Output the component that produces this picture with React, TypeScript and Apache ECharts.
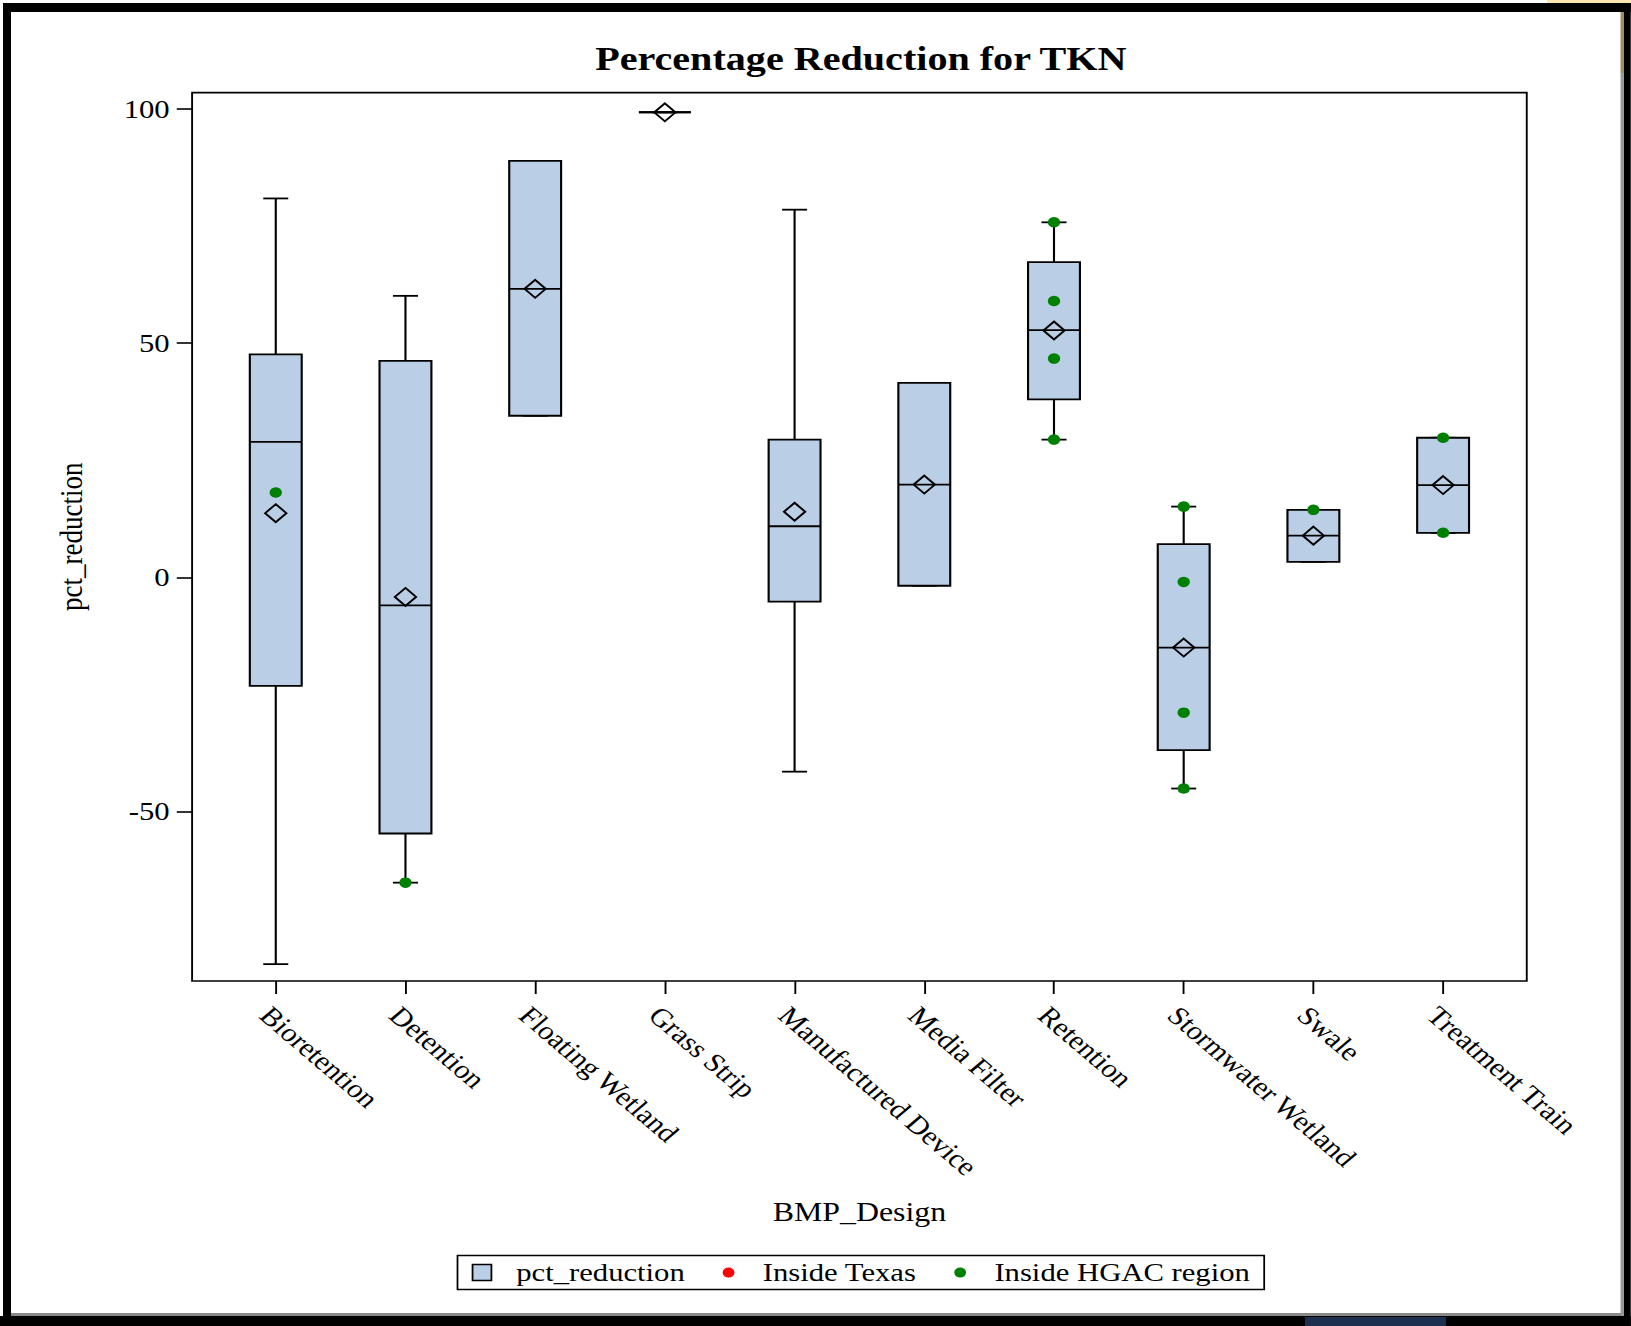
import React, { useEffect, useRef } from 'react';
import * as echarts from 'echarts';

// ---- data ----
const categories = [
  'Bioretention',
  'Detention',
  'Floating Wetland',
  'Grass Strip',
  'Manufactured Device',
  'Media Filter',
  'Retention',
  'Stormwater Wetland',
  'Swale',
  'Treatment Train',
];
const whiskerLow = [-82.6, -65.2, 34.5, 99.3, -41.5, -1.8, 29.4, -45.1, 3.3, 9.5];
const quartile1 = [-23.2, -54.7, 34.5, 99.3, -5.2, -1.8, 38.0, -36.9, 3.3, 9.5];
const medians = [28.9, -6.0, 61.6, 99.3, 10.9, 19.8, 52.8, -15.0, 8.9, 19.7];
const quartile3 = [47.6, 46.2, 88.9, 99.3, 29.4, 41.5, 67.3, 7.1, 14.4, 29.8];
const whiskerHigh = [80.9, 60.1, 88.9, 99.3, 78.5, 41.5, 75.8, 15.1, 14.4, 29.8];
const means = [13.7, -4.2, 61.6, 99.3, 14.0, 19.8, 52.7, -15.0, 8.9, 19.7];

const hgacCategory = [0, 1, 6, 6, 6, 6, 7, 7, 7, 7, 8, 9, 9];
const hgacValues = [18.1, -65.2, 75.8, 59.0, 46.7, 29.4, 15.1, -1.0, -28.9, -45.1, 14.4, 29.8, 9.5];
const texasCategory: number[] = [];
const texasValues: number[] = [];

const yTickValues = [-50, 0, 50, 100];
const xTickValues = categories.map((_, i) => i);

// ---- layout ----
const K = 1.18; // horizontal stretch of the reference picture
const FULL_W = 1631;
const FULL_H = 1326;
const W = FULL_W / K;
const fx = (x: number) => x / K;

const BOX_COLOR = '#BACFE6';
const GREEN = '#008000';
const RED = '#FF0000';
const FONT = 'Liberation Serif';

const circleIcon =
  'path://M0,0L0.01,0M16,16L16.01,16M13,8A5,5,0,1,1,3,8A5,5,0,1,1,13,8Z';

function renderBox(params: any, api: any) {
  const i = api.value(0);
  const lo = api.value(1);
  const a = api.value(2);
  const m = api.value(3);
  const b = api.value(4);
  const hi = api.value(5);
  const mean = api.value(6);
  const unit = api.size([1, 0])[0];
  const bw = unit * 0.4;
  const cw = unit * 0.193;
  const pLo = api.coord([i, lo]);
  const cx = pLo[0];
  const yLo = pLo[1];
  const yQ1 = api.coord([i, a])[1];
  const yMed = api.coord([i, m])[1];
  const yQ3 = api.coord([i, b])[1];
  const yHi = api.coord([i, hi])[1];
  const yMean = api.coord([i, mean])[1];
  const lw = 1.8;
  const ls = { stroke: '#000', lineWidth: lw, fill: null };
  const d = 9;
  return {
    type: 'group',
    children: [
      { type: 'line', shape: { x1: cx, y1: yQ3, x2: cx, y2: yHi }, style: ls },
      { type: 'line', shape: { x1: cx - cw / 2, y1: yHi, x2: cx + cw / 2, y2: yHi }, style: ls },
      { type: 'line', shape: { x1: cx, y1: yQ1, x2: cx, y2: yLo }, style: ls },
      { type: 'line', shape: { x1: cx - cw / 2, y1: yLo, x2: cx + cw / 2, y2: yLo }, style: ls },
      {
        type: 'rect',
        shape: { x: cx - bw / 2, y: yQ3, width: bw, height: yQ1 - yQ3 },
        style: { fill: BOX_COLOR, stroke: '#000', lineWidth: lw },
      },
      { type: 'line', shape: { x1: cx - bw / 2, y1: yMed, x2: cx + bw / 2, y2: yMed }, style: ls },
      {
        type: 'polygon',
        shape: {
          points: [
            [cx, yMean - d],
            [cx + d, yMean],
            [cx, yMean + d],
            [cx - d, yMean],
          ],
        },
        style: { fill: 'none', stroke: '#000', lineWidth: lw },
      },
    ],
  };
}

export default function App() {
  const ref = useRef<HTMLDivElement>(null);

  useEffect(() => {
    if (!ref.current) return;
    const chart = echarts.init(ref.current, undefined, { renderer: 'svg' });

    const boxData = categories.map((_, i) => [
      i,
      whiskerLow[i],
      quartile1[i],
      medians[i],
      quartile3[i],
      whiskerHigh[i],
      means[i],
    ]);
    const hgacData = hgacCategory.map((c, j) => [c, hgacValues[j]]);
    const texasData = texasCategory.map((c, j) => [c, texasValues[j]]);

    const option: any = {
      animation: false,
      backgroundColor: '#ffffff',
      textStyle: { fontFamily: FONT, color: '#000' },
      title: {
        text: 'Percentage Reduction for TKN',
        left: 729.5,
        textAlign: 'center',
        top: 41.8,
        padding: 0,
        textStyle: {
          fontFamily: FONT,
          fontWeight: 'bold',
          fontSize: 34,
          lineHeight: 34,
          color: '#000',
        },
      },
      legend: {
        left: fx(457.5),
        top: 1255.6,
        padding: [4, 12, 4, 12],
        borderColor: '#000',
        borderWidth: 1.5,
        itemWidth: 16,
        itemHeight: 16,
        itemGap: 29,
        selectedMode: false,
        textStyle: {
          fontFamily: FONT,
          fontSize: 26,
          lineHeight: 24,
          color: '#000',
          padding: [0, 0, 0, 16],
        },
        data: [
          {
            name: 'pct_reduction',
            icon: 'rect',
            itemStyle: { color: BOX_COLOR, borderColor: '#000', borderWidth: 1.5 },
          },
          { name: 'Inside Texas', icon: circleIcon, itemStyle: { color: RED, borderWidth: 0, opacity: 1 } },
          { name: 'Inside HGAC region', icon: circleIcon, itemStyle: { color: GREEN, borderWidth: 0, opacity: 1 } },
        ],
      },
      grid: {
        left: fx(192.1),
        right: W - fx(1527),
        top: 92.6,
        bottom: FULL_H - 981,
        show: true,
        borderColor: '#000',
        borderWidth: 1.6,
        backgroundColor: 'transparent',
      },
      xAxis: {
        type: 'value',
        min: -0.645,
        max: 9.645,
        position: 'bottom',
        name: 'BMP_Design',
        nameLocation: 'middle',
        nameGap: 217.5,
        nameTextStyle: { fontFamily: FONT, fontSize: 27, lineHeight: 27, color: '#000' },
        axisLine: { show: false, onZero: false },
        splitLine: { show: false },
        axisTick: {
          show: true,
          inside: false,
          length: 13,
          customValues: xTickValues,
          lineStyle: { color: '#000', width: 1.6 },
        },
        axisLabel: {
          customValues: xTickValues,
          rotate: -45,
          align: 'left',
          verticalAlign: 'top',
          margin: 21,
          fontFamily: FONT,
          fontSize: 26,
          color: '#000',
          formatter: (v: number) => categories[Math.round(v)] ?? '',
        },
      },
      yAxis: {
        type: 'value',
        min: -86.2,
        max: 103.5,
        position: 'left',
        name: 'pct_reduction',
        nameLocation: 'middle',
        nameGap: 89,
        nameTextStyle: { fontFamily: FONT, fontSize: 27, lineHeight: 27, color: '#000' },
        axisLine: { show: false, onZero: false },
        splitLine: { show: false },
        axisTick: {
          show: true,
          inside: false,
          length: 13,
          customValues: yTickValues,
          lineStyle: { color: '#000', width: 1.6 },
        },
        axisLabel: {
          customValues: yTickValues,
          margin: 19,
          fontFamily: FONT,
          fontSize: 26,
          color: '#000',
        },
      },
      series: [
        {
          name: 'pct_reduction',
          type: 'custom',
          renderItem: renderBox,
          data: boxData,
          encode: { x: 0, y: [1, 2, 3, 4, 5, 6] },
          itemStyle: { color: BOX_COLOR },
          silent: true,
          z: 2,
        },
        {
          name: 'Inside Texas',
          type: 'scatter',
          data: texasData,
          symbol: 'circle',
          symbolSize: 10.5,
          itemStyle: { color: RED, opacity: 1 },
          silent: true,
          z: 3,
        },
        {
          name: 'Inside HGAC region',
          type: 'scatter',
          data: hgacData,
          symbol: 'circle',
          symbolSize: 10.5,
          itemStyle: { color: GREEN, opacity: 1 },
          silent: true,
          z: 4,
        },
      ],
      graphic: [
        // outer picture frame
        { type: 'rect', silent: true, shape: { x: fx(1547), y: 0, width: W - fx(1547), height: 3 }, style: { fill: '#FCE6B0' } },
        { type: 'rect', silent: true, shape: { x: fx(3), y: 3, width: W, height: 9 }, style: { fill: '#000' } },
        { type: 'rect', silent: true, shape: { x: fx(3), y: 3, width: fx(8), height: FULL_H }, style: { fill: '#000' } },
        { type: 'rect', silent: true, shape: { x: fx(1624), y: 3, width: W - fx(1624), height: FULL_H }, style: { fill: '#000' } },
        { type: 'rect', silent: true, shape: { x: fx(1620.5), y: 12, width: fx(3.5), height: 61 }, style: { fill: '#A08C64' } },
        { type: 'rect', silent: true, shape: { x: fx(1620.5), y: 73, width: fx(3.5), height: 1243 }, style: { fill: '#9A9A9A' } },
        { type: 'rect', silent: true, shape: { x: fx(11), y: 1313, width: fx(1610), height: 3 }, style: { fill: '#8A8A8A' } },
        { type: 'rect', silent: true, shape: { x: 0, y: 1316, width: W, height: 10 }, style: { fill: '#000' } },
        { type: 'rect', silent: true, shape: { x: fx(1305), y: 1317, width: fx(141), height: 9 }, style: { fill: '#1C2F4F' } },
      ],
    };

    chart.setOption(option);
    return () => {
      chart.dispose();
    };
  }, []);

  return (
    <div
      ref={ref}
      style={{
        position: 'absolute',
        left: 0,
        top: 0,
        width: W,
        height: FULL_H,
        transform: `scaleX(${K})`,
        transformOrigin: '0 0',
      }}
    />
  );
}
